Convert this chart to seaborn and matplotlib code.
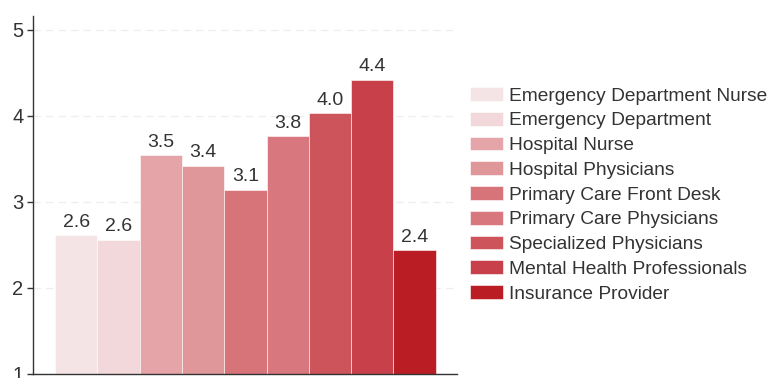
import matplotlib
matplotlib.use("Agg")
import matplotlib.pyplot as plt
import seaborn as sns
import pandas as pd

categories = [
    "Emergency Department Nurse",
    "Emergency Department",
    "Hospital Nurse",
    "Hospital Physicians",
    "Primary Care Front Desk",
    "Primary Care Physicians",
    "Specialized Physicians",
    "Mental Health Professionals",
    "Insurance Provider",
]
scores = [2.61, 2.56, 3.54, 3.42, 3.14, 3.76, 4.03, 4.42, 2.44]
colors = ["#f5e4e5", "#f2d8da", "#e5a4a7", "#e0979a", "#d6747a",
          "#d8777d", "#ce545b", "#c7404a", "#bb1d25"]
y_ticks = [1, 2, 3, 4, 5]

sns.set_theme(style="white")
plt.rcParams["font.family"] = ["Liberation Sans", "DejaVu Sans"]

df = pd.DataFrame({"category": categories, "score": scores})

fig = plt.figure(figsize=(7.68, 3.78), dpi=100)
ax = fig.add_axes([0.043, 0.011, 0.552, 0.947])

sns.barplot(data=df, x="category", y="score", hue="category",
            palette=colors, width=1.0, dodge=False, legend=True,
            saturation=1, ax=ax, zorder=2, linewidth=0.4, edgecolor="#ffffff")

for patch, v in zip(ax.patches, scores):
    ax.text(patch.get_x() + patch.get_width() / 2, v + 0.05, f"{v:.1f}",
            ha="center", va="bottom", fontsize=14, color="#333333")

ax.set_ylim(1, 5.16)
ax.set_xlim(-1.02, 9.0)
ax.set_yticks(y_ticks)
ax.set_yticklabels([str(t) for t in y_ticks], fontsize=14.5, color="#333333")
ax.set_xticks([])
ax.set_xlabel("")
ax.set_ylabel("")
ax.tick_params(axis="y", which="major", left=True, length=4, width=1,
               color="#333333", pad=3)

ax.yaxis.grid(True, linestyle=(0, (6, 4)), color="#eeeeee", linewidth=0.9, zorder=0)
ax.set_axisbelow(True)

for side in ["top", "right"]:
    ax.spines[side].set_visible(False)
for side in ["left", "bottom"]:
    ax.spines[side].set_color("#333333")
    ax.spines[side].set_linewidth(1.0)

leg = ax.legend(loc="center left", bbox_to_anchor=(1.012, 0.5), frameon=False,
                fontsize=13.8, handlelength=1.72, handleheight=0.73,
                handletextpad=0.31, labelspacing=0.375, borderaxespad=0)
for t in leg.get_texts():
    t.set_color("#333333")

fig.savefig("out.png", dpi=100)
